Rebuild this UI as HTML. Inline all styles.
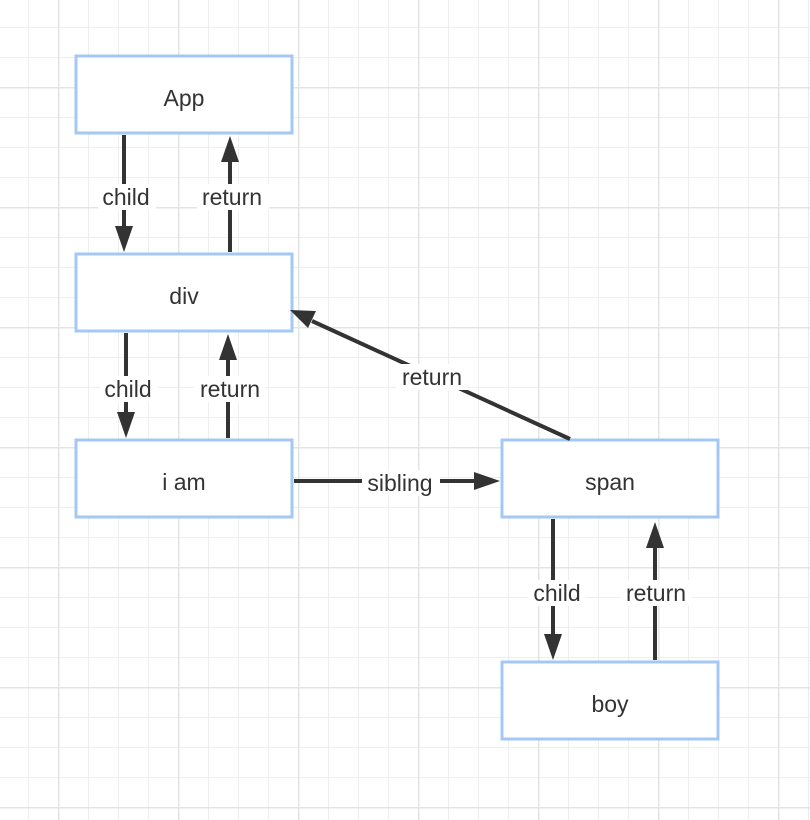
<!DOCTYPE html>
<html><head><meta charset="utf-8"><style>body{margin:0;background:#fff}svg{display:block}</style></head><body>
<svg width="810" height="820" xmlns="http://www.w3.org/2000/svg" font-family="Liberation Sans, sans-serif">
<defs>
<pattern id="mi" width="30" height="30" patternUnits="userSpaceOnUse" x="28" y="27">
<path d="M0 0H30M0 0V30" stroke="#eeeeee" stroke-width="2" fill="none"/></pattern>
<pattern id="ma" width="120" height="120" patternUnits="userSpaceOnUse" x="58" y="87">
<path d="M0 0H120M0 0V120" stroke="#e4e4e4" stroke-width="3" fill="none"/></pattern>
</defs>
<rect width="810" height="820" fill="url(#mi)"/>
<rect width="810" height="820" fill="url(#ma)"/>
<g fill="#fff" stroke="#a3c8f5" stroke-width="3">
<rect x="76" y="56" width="216" height="77"/>
<rect x="76" y="254" width="216" height="77"/>
<rect x="76" y="440" width="216" height="77"/>
<rect x="502" y="440" width="216" height="77"/>
<rect x="502" y="662" width="216" height="77"/>
</g>
<g stroke="#333" stroke-width="4" fill="#333">
<line x1="124" y1="135" x2="124" y2="228"/><path d="M115 226L133 226L124 252z" stroke="none"/>
<line x1="230" y1="252" x2="230" y2="160"/><path d="M221 162L239 162L230 136z" stroke="none"/>
<line x1="126" y1="333" x2="126" y2="414"/><path d="M117 412L135 412L126 438z" stroke="none"/>
<line x1="228" y1="438" x2="228" y2="358"/><path d="M219 360L237 360L228 334z" stroke="none"/>
<line x1="553" y1="519" x2="553" y2="636"/><path d="M544 634L562 634L553 660z" stroke="none"/>
<line x1="655" y1="660" x2="655" y2="546"/><path d="M646 548L664 548L655 522z" stroke="none"/>
<line x1="294" y1="481" x2="476" y2="481"/><path d="M474 472L474 490L500 481z" stroke="none"/>
<line x1="570" y1="439" x2="312" y2="321"/><path d="M316 311L308 328L290 310z" stroke="none"/>
</g>
<g fill="#fff">
<rect x="98" y="184" width="58" height="26"/><rect x="197" y="184" width="72" height="26"/>
<rect x="100" y="376" width="58" height="26"/><rect x="194" y="376" width="72" height="26"/>
<rect x="528" y="580" width="58" height="26"/><rect x="620" y="580" width="72" height="26"/>
<rect x="362" y="470" width="78" height="26"/><rect x="396" y="364" width="72" height="26"/>
</g>
<g fill="#333" font-size="23" text-anchor="middle">
<text x="184" y="106">App</text><text x="184" y="304">div</text><text x="184" y="490">i am</text>
<text x="610" y="490">span</text><text x="610" y="712">boy</text>
<text x="126" y="205">child</text><text x="232" y="205">return</text>
<text x="128" y="397">child</text><text x="230" y="397">return</text>
<text x="557" y="601">child</text><text x="656" y="601">return</text>
<text x="400" y="491">sibling</text><text x="432" y="385">return</text>
</g>
</svg>
</body></html>
